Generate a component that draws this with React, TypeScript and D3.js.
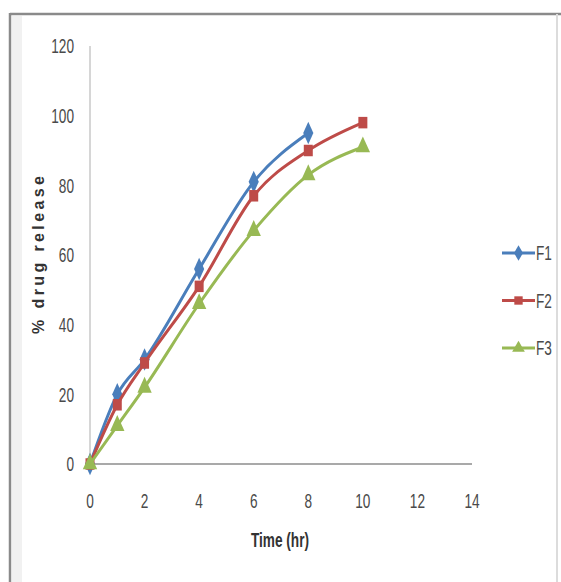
import React, { useEffect, useRef } from "react";
import * as d3 from "d3";

const times = [0, 1, 2, 4, 6, 8, 10];
const f1 = [0, 20, 30, 56, 81, 95, null];
const f2 = [0, 17, 29, 51, 77, 90, 98];
const f3 = [0, 11, 22, 46, 67, 83, 91];
const seriesNames = ["F1", "F2", "F3"];
const xTicks = [0, 2, 4, 6, 8, 10, 12, 14];
const yTicks = [0, 20, 40, 60, 80, 100, 120];

const colors = ["#4A7EBB", "#BE4B48", "#98B954"];
const symbols = [d3.symbolDiamond, d3.symbolSquare, d3.symbolTriangle];
const font = "'Liberation Sans', Arial, sans-serif";
const squeeze = 0.65;

const App = () => {
    const ref = useRef<SVGSVGElement>(null);
    const width = 561;
    const height = 582;

    useEffect(() => {
        const svg = d3.select(ref.current);
        svg.selectAll("*").remove();

        svg.append("rect").attr("width", width).attr("height", height).attr("fill", "#fff");

        // outer frame
        svg.append("rect")
            .attr("x", 12).attr("y", 16).attr("width", 10).attr("height", height)
            .attr("fill", "#f1f1f1");
        svg.append("line").attr("x1", 10).attr("x2", width).attr("y1", 14).attr("y2", 14)
            .attr("stroke", "#8a8a8a").attr("stroke-width", 2.5);
        svg.append("line").attr("x1", 10).attr("x2", 10).attr("y1", 13).attr("y2", height)
            .attr("stroke", "#8a8a8a").attr("stroke-width", 2.5);
        svg.append("line").attr("x1", 557).attr("x2", 557).attr("y1", 14).attr("y2", height)
            .attr("stroke", "#dcdcdc").attr("stroke-width", 2);

        const x = d3.scaleLinear().domain([0, 14]).range([90, 472]);
        const y = d3.scaleLinear().domain([0, 120]).range([464, 46]);

        // axes
        svg.append("line").attr("x1", x(0)).attr("x2", x(0)).attr("y1", y(120)).attr("y2", y(0))
            .attr("stroke", "#c8c8c8").attr("stroke-width", 1.5);
        svg.append("line").attr("x1", x(0)).attr("x2", x(14)).attr("y1", y(0)).attr("y2", y(0))
            .attr("stroke", "#8c8c8c").attr("stroke-width", 1.5);

        svg.append("g").selectAll("text").data(yTicks).join("text")
            .attr("transform", (d) => `translate(74,${y(d)}) scale(${squeeze},1)`)
            .attr("dy", "0.35em")
            .attr("text-anchor", "end")
            .attr("font-family", font).attr("font-size", 21).attr("fill", "#4a4a4a")
            .text((d) => d);

        svg.append("g").selectAll("text").data(xTicks).join("text")
            .attr("transform", (d) => `translate(${x(d)},501) scale(${squeeze},1)`)
            .attr("dy", "0.35em")
            .attr("text-anchor", "middle")
            .attr("font-family", font).attr("font-size", 21).attr("fill", "#4a4a4a")
            .text((d) => d);

        svg.append("text")
            .attr("transform", `translate(280,540) scale(${squeeze},1)`)
            .attr("dy", "0.35em")
            .attr("text-anchor", "middle")
            .attr("font-family", font).attr("font-size", 21).attr("font-weight", "bold")
            .attr("fill", "#333")
            .text("Time (hr)");

        svg.append("text")
            .attr("transform", "translate(38,255) rotate(-90)")
            .attr("dy", "0.35em")
            .attr("text-anchor", "middle")
            .attr("font-family", font)
            .attr("font-size", 16).attr("font-weight", "bold").attr("fill", "#333")
            .attr("textLength", 158).attr("lengthAdjust", "spacing")
            .text("% drug release");

        const series = [f1, f2, f3];
        const line = d3.line<[number, number]>()
            .x((d) => x(d[0]))
            .y((d) => y(d[1]))
            .curve(d3.curveMonotoneX);

        series.forEach((vals, i) => {
            const pts = times
                .map((t, j) => [t, vals[j]] as [number, number | null])
                .filter((p) => p[1] !== null) as [number, number][];
            svg.append("path")
                .datum(pts)
                .attr("d", line)
                .attr("fill", "none")
                .attr("stroke", colors[i])
                .attr("stroke-width", 3);
            svg.append("g").selectAll("path").data(pts).join("path")
                .attr("transform", (d) => `translate(${x(d[0])},${y(d[1])}) scale(0.9,1.15)`)
                .attr("d", d3.symbol().type(symbols[i]).size(i === 1 ? 100 : 110)())
                .attr("fill", colors[i]);
        });

        // legend
        const lg = svg.append("g").selectAll("g").data(seriesNames).join("g")
            .attr("transform", (d, i) => `translate(502,${253 + i * 47.5})`);
        lg.append("line").attr("x1", 0).attr("x2", 33)
            .attr("stroke", (d, i) => colors[i]).attr("stroke-width", 3);
        lg.append("path")
            .attr("transform", "translate(16.5,0)")
            .attr("d", (d, i) => d3.symbol().type(symbols[i]).size(70)())
            .attr("fill", (d, i) => colors[i]);
        lg.append("text")
            .attr("transform", `translate(34,0) scale(${squeeze},1)`)
            .attr("dy", "0.35em")
            .attr("font-family", font).attr("font-size", 21).attr("fill", "#4a4a4a")
            .text((d) => d);
    }, []);

    return (
        <svg
            ref={ref}
            width={width}
            height={height}
            style={{ position: "absolute", left: 0, top: 0 }}
        ></svg>
    );
};

export default App;
